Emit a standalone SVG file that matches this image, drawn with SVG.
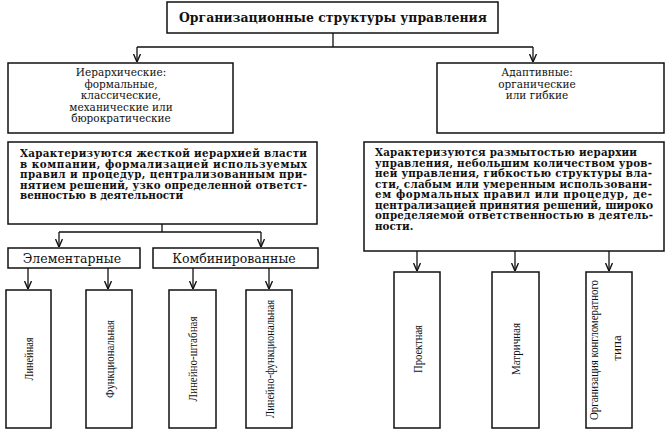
<svg xmlns="http://www.w3.org/2000/svg" width="670" height="432" viewBox="0 0 670 432">
<style>
.box{fill:#fff;stroke:#111;stroke-width:1.5}
.ln{fill:none;stroke:#111;stroke-width:1.3}
.title{font-family:"DejaVu Serif","Liberation Serif",serif;font-weight:bold;font-size:12px;fill:#111}
.hd{font-family:"DejaVu Serif","Liberation Serif",serif;font-size:10.5px;fill:#111;text-anchor:middle}
.ds{font-family:"DejaVu Serif","Liberation Serif",serif;font-weight:bold;font-size:10.3px;fill:#111}
.sub{font-family:"DejaVu Serif","Liberation Serif",serif;font-size:12.5px;fill:#111;text-anchor:middle}
.rot{font-family:"Liberation Serif","Times New Roman",serif;font-size:13px;fill:#111;text-anchor:middle}
</style>
<defs>
<marker id="arr" viewBox="0 0 8 8" refX="8" refY="4" markerWidth="8" markerHeight="8" markerUnits="userSpaceOnUse" orient="auto">
<path d="M0,0.5 L8,4 L0,7.5" fill="none" stroke="#111" stroke-width="1.4"/>
</marker>
</defs>
<rect width="670" height="432" fill="#fff"/>
<g id="connectors">
<path class="ln" d="M333,33 V47 M137,47 H533"/>
<path class="ln" d="M137,47 V62" marker-end="url(#arr)"/>
<path class="ln" d="M533,47 V62" marker-end="url(#arr)"/>
<path class="ln" d="M162,224 V232 M59,232 H261"/>
<path class="ln" d="M59,232 V247" marker-end="url(#arr)"/>
<path class="ln" d="M261,232 V247" marker-end="url(#arr)"/>
<path class="ln" d="M28,268 V289" marker-end="url(#arr)"/>
<path class="ln" d="M108,268 V289" marker-end="url(#arr)"/>
<path class="ln" d="M193,268 V289" marker-end="url(#arr)"/>
<path class="ln" d="M269,268 V289" marker-end="url(#arr)"/>
<path class="ln" d="M417,251 V271" marker-end="url(#arr)"/>
<path class="ln" d="M515,251 V271" marker-end="url(#arr)"/>
<path class="ln" d="M609,251 V271" marker-end="url(#arr)"/>
</g>
<g id="root">
<rect class="box" x="167" y="2" width="331" height="31"/>
<text class="title" x="333" y="22" text-anchor="middle" textLength="308" lengthAdjust="spacingAndGlyphs">Организационные структуры управления</text>
</g>
<g id="hier">
<rect class="box" x="8" y="63" width="225" height="70"/>
<text class="hd" x="121" y="76">Иерархические:</text>
<text class="hd" x="121" y="87.5">формальные,</text>
<text class="hd" x="121" y="99">классические,</text>
<text class="hd" x="121" y="110.5">механические или</text>
<text class="hd" x="121" y="122">бюрократические</text>
</g>
<g id="adapt">
<rect class="box" x="437" y="63" width="227" height="70"/>
<text class="hd" x="537" y="76">Адаптивные:</text>
<text class="hd" x="537" y="87.5">органические</text>
<text class="hd" x="537" y="99">или гибкие</text>
</g>
<g id="hier-desc">
<rect class="box" x="8" y="142" width="309" height="82"/>
<text class="ds" x="20" y="157" textLength="287" lengthAdjust="spacing">Характеризуются жесткой иерархией власти</text>
<text class="ds" x="20" y="167.5" textLength="287" lengthAdjust="spacing">в компании, формализацией используемых</text>
<text class="ds" x="20" y="178" textLength="287" lengthAdjust="spacing">правил и процедур, централизованным при-</text>
<text class="ds" x="20" y="188.5" textLength="287" lengthAdjust="spacing">нятием решений, узко определенной ответст-</text>
<text class="ds" x="20" y="199">венностью в деятельности</text>
</g>
<g id="adapt-desc">
<rect class="box" x="364" y="142" width="300" height="109"/>
<text class="ds" x="375" y="156" textLength="262" lengthAdjust="spacing">Характеризуются размытостью иерархии</text>
<text class="ds" x="375" y="166.5" textLength="277" lengthAdjust="spacing">управления, небольшим количеством уров-</text>
<text class="ds" x="375" y="177" textLength="277" lengthAdjust="spacing">ней управления, гибкостью структуры вла-</text>
<text class="ds" x="375" y="187.5" textLength="277" lengthAdjust="spacing">сти, слабым или умеренным использовани-</text>
<text class="ds" x="375" y="198" textLength="277" lengthAdjust="spacing">ем формальных правил или процедур, де-</text>
<text class="ds" x="375" y="208.5" textLength="278" lengthAdjust="spacing">централизацией принятия решений, широко</text>
<text class="ds" x="375" y="219" textLength="278" lengthAdjust="spacing">определяемой ответственностью в деятель-</text>
<text class="ds" x="375" y="229.5">ности.</text>
</g>
<g id="elem">
<rect class="box" x="8" y="248" width="132" height="20"/>
<text class="sub" x="72" y="262.5">Элементарные</text>
</g>
<g id="comb">
<rect class="box" x="153" y="248" width="165" height="20"/>
<text class="sub" x="234" y="262.5">Комбинированные</text>
</g>
<g id="linear">
<rect class="box" x="6" y="290" width="45" height="138"/>
<text class="rot" transform="translate(33,359) rotate(-90)" textLength="43" lengthAdjust="spacingAndGlyphs">Линейная</text>
</g>
<g id="functional">
<rect class="box" x="86" y="290" width="46" height="138"/>
<text class="rot" transform="translate(113.5,359) rotate(-90)" textLength="78" lengthAdjust="spacingAndGlyphs">Функциональная</text>
</g>
<g id="line-staff">
<rect class="box" x="169" y="290" width="47" height="138"/>
<text class="rot" transform="translate(196.5,359) rotate(-90)" textLength="85" lengthAdjust="spacingAndGlyphs">Линейно-штабная</text>
</g>
<g id="line-func">
<rect class="box" x="246" y="290" width="46" height="138"/>
<text class="rot" transform="translate(273.5,359) rotate(-90)" textLength="118" lengthAdjust="spacingAndGlyphs">Линейно-функциональная</text>
</g>
<g id="project">
<rect class="box" x="394" y="272" width="46" height="156"/>
<text class="rot" transform="translate(421.5,349) rotate(-90)" textLength="48" lengthAdjust="spacingAndGlyphs">Проектная</text>
</g>
<g id="matrix">
<rect class="box" x="492" y="272" width="47" height="156"/>
<text class="rot" transform="translate(519.5,349) rotate(-90)" textLength="52" lengthAdjust="spacingAndGlyphs">Матричная</text>
</g>
<g id="conglomerate">
<rect class="box" x="586" y="272" width="46" height="156"/>
<text class="rot" transform="translate(597.5,350) rotate(-90)" textLength="140" lengthAdjust="spacingAndGlyphs">Организация конгломератного</text>
<text class="rot" transform="translate(621,348) rotate(-90)">типа</text>
</g>
</svg>
